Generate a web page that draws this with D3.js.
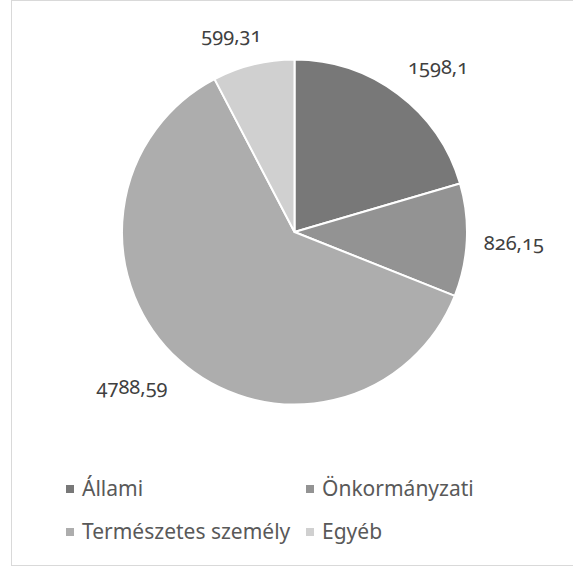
<!DOCTYPE html>
<html>
<head>
<meta charset="utf-8">
<script src="https://cdn.jsdelivr.net/npm/d3@7"></script>
<style>
html,body{margin:0;padding:0;background:#fff;}
svg text{font-family:"Noto Sans","Open Sans",sans-serif;font-variant-numeric:oldstyle-nums;font-feature-settings:"onum" 1;}
</style>
</head>
<body>
<svg id="chart" width="573" height="567"></svg>
<script>
const categories = ["Állami", "Önkormányzati", "Természetes személy", "Egyéb"];
const values = [1598.1, 826.15, 4788.59, 599.31];
const valueLabels = ["1598,1", "826,15", "4788,59", "599,31"];
const colors = ["#787878", "#939393", "#adadad", "#d0d0d0"];

const svg = d3.select("#chart");

// chart border
svg.append("rect")
  .attr("x", 11.5).attr("y", 0.5)
  .attr("width", 580).attr("height", 565)
  .attr("fill", "#fff").attr("stroke", "#d9d9d9").attr("stroke-width", 1);

const cx = 294.5, cy = 232, r = 172.5;
const data = categories.map((c, i) => ({cat: c, value: values[i], label: valueLabels[i], color: colors[i]}));

const pie = d3.pie().value(d => d.value).sort(null);
const arc = d3.arc().innerRadius(0).outerRadius(r);
const arcs = pie(data);

const g = svg.append("g").attr("transform", `translate(${cx},${cy})`);
g.selectAll("path.slice").data(arcs).join("path")
  .attr("class", "slice")
  .attr("d", arc)
  .attr("fill", d => d.data.color)
  .attr("stroke", "#fff")
  .attr("stroke-width", 2)
  .attr("stroke-linejoin", "round");

// outside-end labels (bbox's nearest corner placed at r+gap along mid angle)
const gap = 17;
const clamp = v => Math.max(-1, Math.min(1, v));
const labels = g.selectAll("text.lbl").data(arcs).join("text")
  .attr("class", "lbl")
  .attr("font-size", 20)
  .attr("fill", "#404040")
  .text(d => d.data.label);
labels.each(function(d) {
  const t = d3.select(this);
  const bb = this.getBBox();
  const a = (d.startAngle + d.endAngle) / 2;
  const dx = Math.sin(a), dy = -Math.cos(a);
  const px = (r + gap) * dx, py = (r + gap) * dy;
  const tx = clamp(dx * 2.5), ty = clamp(dy * 2.5);
  const left = px - bb.width * (1 - tx) / 2;
  const top = py - bb.height * (1 - ty) / 2;
  t.attr("x", left - bb.x).attr("y", top - bb.y);
});

// legend
const legX = d3.scalePoint().domain([0, 1]).range([66, 306]);
const legY = d3.scalePoint().domain([0, 1]).range([489, 532]);
const leg = svg.append("g").selectAll("g").data(data).join("g")
  .attr("transform", (d, i) => `translate(${legX(i % 2)},${legY(Math.floor(i / 2))})`);
leg.append("rect").attr("x", 0).attr("y", -4).attr("width", 8).attr("height", 8).attr("fill", d => d.color);
leg.append("text").attr("x", 16).attr("y", 0).attr("dy", "0.35em")
  .attr("font-size", 21).attr("fill", "#595959").text(d => d.cat);
</script>
</body>
</html>
